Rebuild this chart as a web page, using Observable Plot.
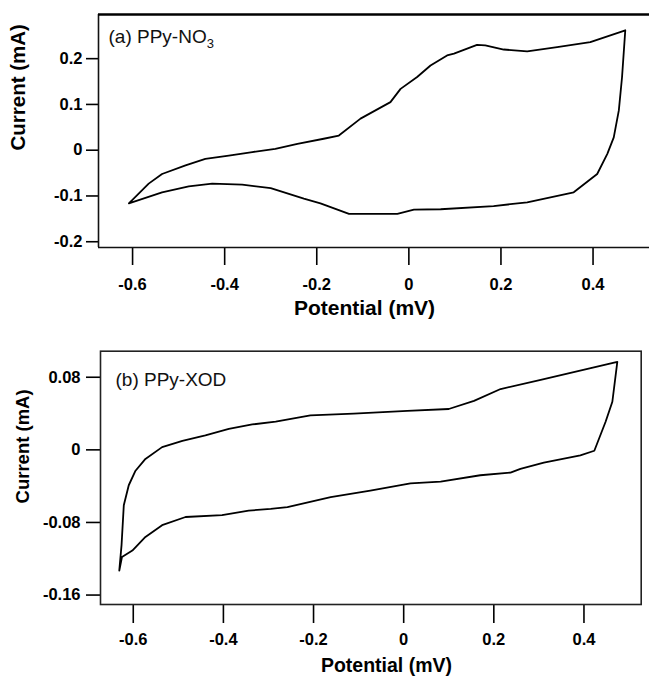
<!DOCTYPE html>
<html><head><meta charset="utf-8">
<script src="https://cdn.jsdelivr.net/npm/d3@7"></script>
<script src="https://cdn.jsdelivr.net/npm/@observablehq/plot@0.6"></script>
<style>body{margin:0;background:#fff} svg{display:block}</style>
</head><body><div id="chart"></div>
<script>
// ---- data ----
const xTicks = [-0.6, -0.4, -0.2, 0, 0.2, 0.4];
const yTicksA = [-0.2, -0.1, 0, 0.1, 0.2];
const yTicksB = [-0.16, -0.08, 0, 0.08];
const xLabel = "Potential (mV)";
const yLabel = "Current (mA)";
const titleA = "(a) PPy-NO3";
const titleB = "(b) PPy-XOD";

// (a) PPy-NO3 cyclic voltammogram (closed loop)
const potentialA = [-0.608,-0.565,-0.536,-0.485,-0.442,-0.391,-0.340,-0.290,-0.242,-0.185,-0.152,-0.105,-0.040,-0.018,0.018,0.047,0.083,0.098,0.148,0.166,0.206,0.257,0.322,0.394,0.470,
  0.463,0.456,0.445,0.431,0.409,0.358,0.257,0.184,0.069,0.011,-0.025,-0.130,-0.192,-0.228,-0.300,-0.362,-0.427,-0.478,-0.536,-0.608];
const currentA = [-0.116,-0.073,-0.052,-0.033,-0.019,-0.012,-0.004,0.003,0.014,0.025,0.032,0.069,0.105,0.134,0.160,0.185,0.207,0.211,0.230,0.229,0.220,0.216,0.225,0.236,0.262,
  0.160,0.087,0.028,-0.008,-0.052,-0.092,-0.114,-0.122,-0.129,-0.130,-0.139,-0.139,-0.116,-0.106,-0.083,-0.075,-0.073,-0.079,-0.092,-0.116];

// (b) PPy-XOD cyclic voltammogram (closed loop)
const potentialB = [-0.631,-0.626,-0.621,-0.610,-0.595,-0.573,-0.536,-0.491,-0.440,-0.388,-0.336,-0.284,-0.207,-0.111,0.008,0.100,0.156,0.215,0.304,0.415,0.474,
  0.463,0.448,0.423,0.392,0.311,0.259,0.237,0.170,0.082,0.015,-0.074,-0.162,-0.258,-0.295,-0.344,-0.403,-0.484,-0.536,-0.573,-0.602,-0.625,-0.631];
const currentB = [-0.133,-0.105,-0.061,-0.039,-0.023,-0.010,0.003,0.010,0.016,0.023,0.028,0.031,0.038,0.040,0.043,0.045,0.054,0.067,0.077,0.090,0.097,
  0.053,0.031,-0.001,-0.006,-0.014,-0.021,-0.025,-0.028,-0.035,-0.037,-0.045,-0.052,-0.063,-0.065,-0.067,-0.072,-0.074,-0.083,-0.096,-0.111,-0.118,-0.133];

const FONT = "'Liberation Sans', Arial, Helvetica, sans-serif";
const fmt = d => String(d);

function panel(o) {
  const rows = o.px.map((x, i) => ({x, y: o.py[i]}));
  const marks = [
    Plot.line(rows, {x: "x", y: "y", stroke: "#000", strokeWidth: 1.8, curve: "linear"}),
    Plot.axisX({ticks: xTicks, tickFormat: fmt, tickSize: o.xTickSize, tickPadding: o.xTickPad, fontSize: o.tickFont, fontWeight: "bold", strokeWidth: 1.6, label: null}),
    Plot.axisY({ticks: o.yTicks, tickFormat: fmt, tickSize: o.yTickSize, tickPadding: o.yTickPad, fontSize: o.tickFont, fontWeight: "bold", strokeWidth: 1.6, label: null}),
    Plot.text([xLabel], {frameAnchor: "bottom", dx: o.xLabDx, dy: o.xLabDy, lineAnchor: "middle", fontSize: o.labFont, fontWeight: "bold", fill: "#000"}),
    Plot.text([yLabel], {frameAnchor: "left", rotate: -90, dx: o.yLabDx, dy: o.yLabDy, lineAnchor: "middle", fontSize: o.yLabFont, fontWeight: "bold", fill: "#000"}),
    Plot.text([o.title], {frameAnchor: "top-left", textAnchor: "start", lineAnchor: "top", dx: o.titleDx, dy: o.titleDy, fontSize: 19, fontWeight: "normal", fill: "#111"})
  ];
  if (o.fullFrame) {
    marks.push(Plot.frame({stroke: "#222", strokeWidth: 1.6}));
  } else {
    marks.push(Plot.ruleX([o.xDomain[0]], {stroke: "#111", strokeWidth: 1.6}));
    marks.push(Plot.ruleY([o.yDomain[0]], {stroke: "#111", strokeWidth: 1.6}));
    marks.push(Plot.ruleY([o.yDomain[1]], {stroke: "#000", strokeWidth: 2.6}));
  }
  const svg = Plot.plot({
    width: 649, height: o.height,
    marginLeft: o.ml, marginRight: o.mr, marginTop: o.mt, marginBottom: o.mb,
    style: {fontFamily: FONT, color: "#000", background: "#fff", overflow: "visible"},
    x: {domain: o.xDomain, label: null},
    y: {domain: o.yDomain, label: null},
    marks
  });
  // subscript in panel title
  d3.select(svg).selectAll("text").filter(function() { return this.textContent === titleA; })
    .each(function() {
      const t = d3.select(this);
      t.text("(a) PPy-NO");
      t.append("tspan").attr("dy", "0.35em").attr("font-size", "13px").text("3");
    });
  return svg;
}

const root = document.getElementById("chart");
root.appendChild(panel({
  px: potentialA, py: currentA, yTicks: yTicksA,
  height: 330, ml: 98, mr: 0, mt: 14, mb: 83,
  xDomain: [-0.674, 0.5226], yDomain: [-0.2126, 0.2965],
  xTickSize: 18, xTickPad: 13, yTickSize: 12, yTickPad: 4, tickFont: 16.5,
  labFont: 21, yLabFont: 20.5, xLabDx: -9.5, xLabDy: 61, yLabDx: -80, yLabDy: 19.5,
  title: titleA, titleDx: 10, titleDy: 15, fullFrame: false
}));
root.appendChild(panel({
  px: potentialB, py: currentB, yTicks: yTicksB,
  height: 346, ml: 100, mr: 8.3, mt: 20.7, mb: 72,
  xDomain: [-0.6727, 0.527], yDomain: [-0.1704, 0.1087],
  xTickSize: 19, xTickPad: 10, yTickSize: 14, yTickPad: 6, tickFont: 16.5,
  labFont: 19.5, yLabFont: 18.5, xLabDx: 15.6, xLabDy: 61, yLabDx: -77.5, yLabDy: 25.6,
  title: titleB, titleDx: 15, titleDy: 21, fullFrame: true
}));
</script>
</body></html>
